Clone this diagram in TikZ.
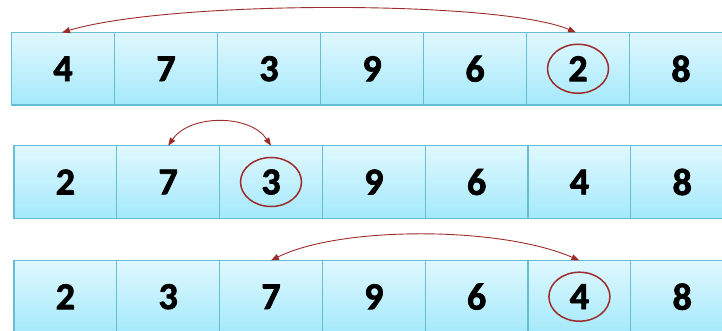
\documentclass[tikz,border=0pt]{standalone}
\usepackage{fontspec}
\setmainfont{Carlito}
\newfontfamily\cellfont{Carlito}[UprightFont={* Bold},BoldFont={* Bold},FakeBold=2]
\usetikzlibrary{arrows.meta}
\definecolor{celltop}{HTML}{E0F8FE}
\definecolor{cellbot}{HTML}{A4E9FB}
\definecolor{cellline}{HTML}{66BDD6}
\definecolor{swapred}{HTML}{9E2B2B}
\tikzset{
  cell/.style={draw=cellline, line width=1.1pt, top color=celltop, bottom color=cellbot,
    minimum width=103pt, minimum height=72.5pt, inner sep=0pt, outer sep=0pt,
    font=\fontsize{38}{42}\cellfont, text=black},
  ring/.style={draw=swapred, line width=1.5pt},
  swap/.style={draw=swapred, line width=0.9pt, {Triangle[length=8pt,width=6pt]}-{Triangle[length=8pt,width=6pt]}}
}
\begin{document}
\begin{tikzpicture}[x=1pt,y=-1pt]
  \useasboundingbox (0,0) rectangle (722,331);
  % first pass: 4 7 3 9 6 2 8
  \foreach \v [count=\i from 0] in {4,7,3,9,6,2,8}
    \node[cell] (a\i) at (63+103*\i, 68.75) {\v};
  % second pass: 2 7 3 9 6 4 8
  \foreach \v [count=\i from 0] in {2,7,3,9,6,4,8}
    \node[cell, minimum width=102.8pt] (b\i) at (65.4+102.8*\i, 182) {\v};
  % third pass: 2 3 7 9 6 4 8
  \foreach \v [count=\i from 0] in {2,3,7,9,6,4,8}
    \node[cell, minimum width=102.8pt] (c\i) at (65.4+102.8*\i, 296.7) {\v};

  % minimum of each pass
  \draw[ring] (a5.center) ellipse [x radius=30.5pt, y radius=24.5pt];
  \draw[ring] (b2.center) ellipse [x radius=30.5pt, y radius=24.5pt];
  \draw[ring] (c5.center) ellipse [x radius=30.5pt, y radius=24.5pt];

  % exchanges
  \coordinate (s1) at ([xshift=-2pt]a5.north);
  \coordinate (t1) at ([xshift=-1pt]a0.north);
  \draw[swap] (t1) .. controls (170,0) and (500,0) .. (s1);
  \coordinate (s2) at (b1.north);
  \coordinate (t2) at (b2.north);
  \draw[swap] (s2) .. controls (190,114) and (250,114) .. (t2);
  \coordinate (s3) at (c2.north);
  \coordinate (t3) at (c5.north);
  \draw[swap] (s3) .. controls (340,226) and (500,226) .. (t3);
\end{tikzpicture}
\end{document}
